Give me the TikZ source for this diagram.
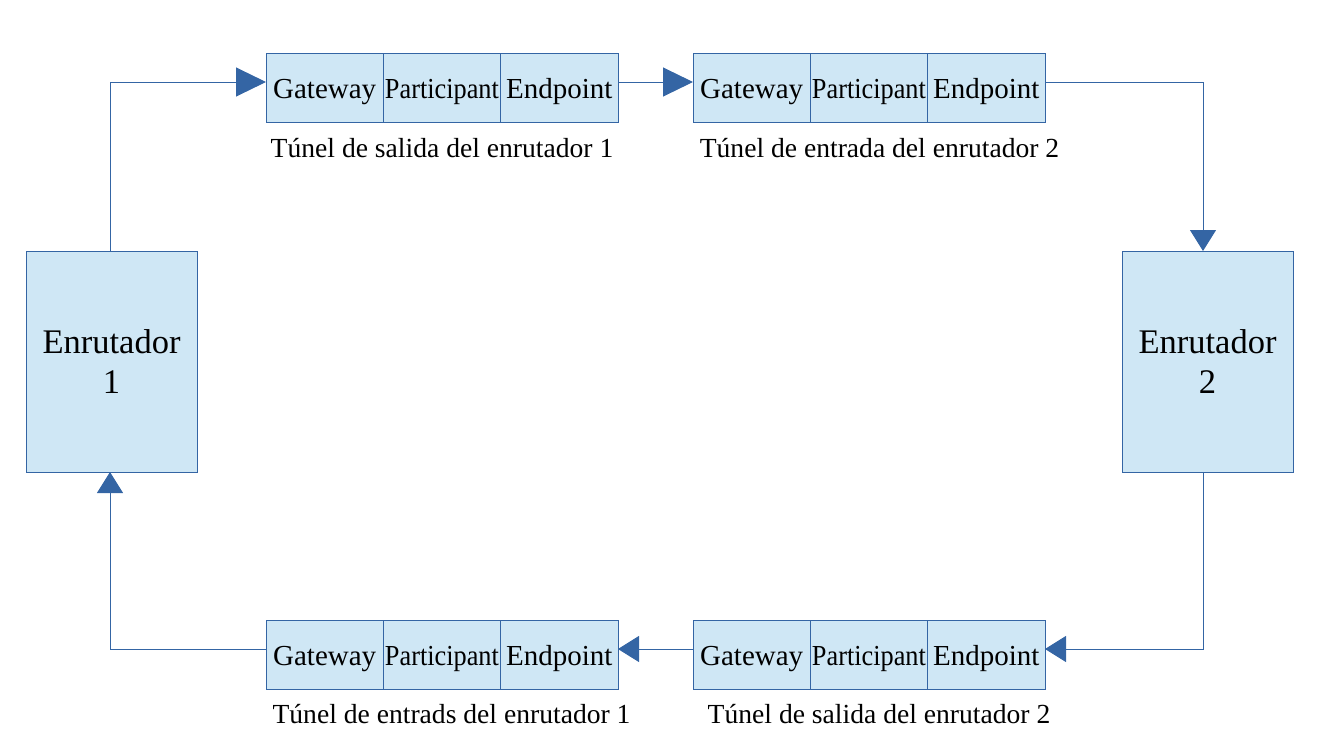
\documentclass[tikz,border=0pt]{standalone}
\usepackage{fontspec}
\setmainfont{Liberation Serif}
\usetikzlibrary{arrows.meta}
\definecolor{boxfill}{HTML}{CFE7F5}
\definecolor{lineblue}{HTML}{3465A4}
\newcommand{\partic}{\scalebox{0.907}[1]{Participant}}
\begin{document}
\begin{tikzpicture}[x=1pt,y=-1pt,
  cell/.style={draw=lineblue, line width=1pt, fill=boxfill, minimum width=117.3pt, minimum height=69pt, inner sep=0pt, outer sep=0pt, anchor=north west, font=\fontsize{29}{34}\selectfont, text height=21pt, text depth=0pt},
  router/.style={draw=lineblue, line width=1pt, fill=boxfill, minimum width=171pt, minimum height=221pt, inner sep=0pt, outer sep=0pt, anchor=north west, align=center, font=\fontsize{34.5}{40.7}\selectfont},
  lbl/.style={inner sep=0pt, font=\fontsize{27.6}{32}\selectfont},
  conn/.style={draw=lineblue, line width=1pt},
  bigtip/.style={-{Triangle[length=30pt,width=29pt]}},
  smalltip/.style={-{Triangle[length=21pt,width=26pt]}},
]
\useasboundingbox (0,0) rectangle (1321,750);
% routers
\node[router] (r1) at (26,251) {Enrutador\\1};
\node[router] (r2) at (1122,251) {Enrutador\\2};
% top tunnels
\node[cell] (t1g) at (266,53) {Gateway};
\node[cell] (t1p) at (383.3,53) {\partic};
\node[cell] (t1e) at (500.7,53) {Endpoint};
\node[cell] (t2g) at (693,53) {Gateway};
\node[cell] (t2p) at (810.3,53) {\partic};
\node[cell] (t2e) at (927.7,53) {Endpoint};
% bottom tunnels
\node[cell] (b1g) at (266,620) {Gateway};
\node[cell] (b1p) at (383.3,620) {\partic};
\node[cell] (b1e) at (500.7,620) {Endpoint};
\node[cell] (b2g) at (693,620) {Gateway};
\node[cell] (b2p) at (810.3,620) {\partic};
\node[cell] (b2e) at (927.7,620) {Endpoint};
% labels
\node[lbl] (l1) at (442,148) {Túnel de salida del enrutador 1};
\node[lbl] (l2) at (879.5,148) {Túnel de entrada del enrutador 2};
\node[lbl] (l3) at (451.5,714) {Túnel de entrads del enrutador 1};
\node[lbl] (l4) at (879,714) {Túnel de salida del enrutador 2};
% connectors
\draw[conn,bigtip] ([xshift=-1.5pt]r1.north) |- ([yshift=5.5pt]t1g.west);
\draw[conn,bigtip] ([yshift=5.5pt]t1e.east) -- ([yshift=5.5pt]t2g.west);
\draw[conn,smalltip] ([yshift=5.5pt]t2e.east) -| ([xshift=-4.5pt]r2.north);
\draw[conn,smalltip] ([xshift=-4.5pt]r2.south) |- ([yshift=5.5pt]b2e.east);
\draw[conn,smalltip] ([yshift=5.5pt]b2g.west) -- ([yshift=5.5pt]b1e.east);
\draw[conn,smalltip] ([yshift=5.5pt]b1g.west) -| ([xshift=-1.5pt]r1.south);
\end{tikzpicture}
\end{document}
